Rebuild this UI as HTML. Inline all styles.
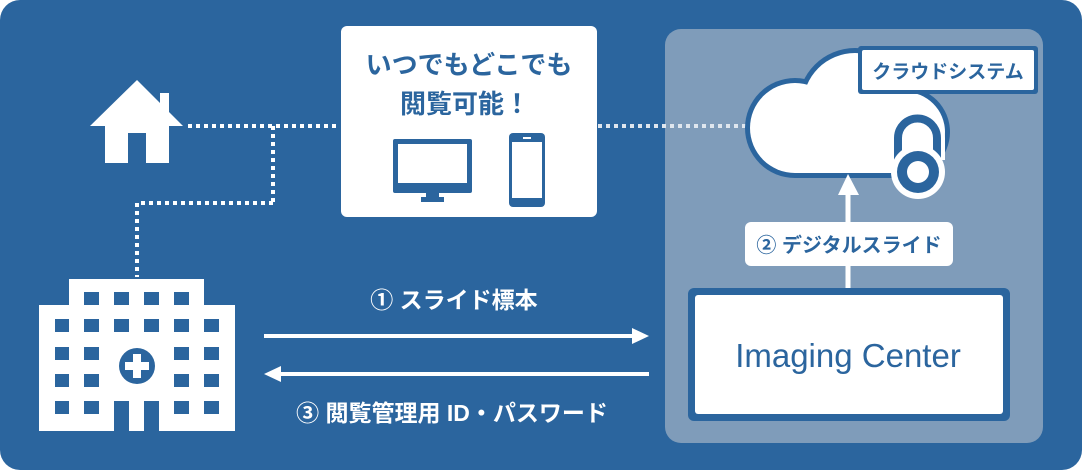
<!DOCTYPE html>
<html><head><meta charset="utf-8"><style>
html,body{margin:0;padding:0;background:#fff;}
svg{display:block;}
text{font-family:"Liberation Sans","Noto Sans CJK JP",sans-serif;font-weight:bold;}
</style></head><body>
<svg width="1082" height="470" viewBox="0 0 1082 470" xmlns="http://www.w3.org/2000/svg">
<rect x="0" y="0" width="1082" height="470" rx="20" fill="#2b659e"/>
<rect x="665" y="29" width="378" height="414" rx="16" fill="#7f9cba"/>

<!-- house -->
<polygon points="137,80 90,126 183,126" fill="#fff"/>
<rect x="105" y="120" width="64" height="43" fill="#fff"/>
<rect x="128" y="133" width="18" height="30" fill="#2b659e"/>
<rect x="160" y="93" width="9" height="25" fill="#fff"/>

<!-- dotted lines -->
<g stroke="#fff" stroke-width="4" stroke-dasharray="4 4" fill="none">
<line x1="188" y1="126" x2="340" y2="126"/>
<line x1="273" y1="126" x2="273" y2="203"/>
<line x1="273" y1="203" x2="137" y2="203"/>
<line x1="137" y1="203" x2="137" y2="277"/>
</g>
<line x1="598" y1="126" x2="746" y2="126" stroke="#dfe6ee" stroke-width="4" stroke-dasharray="4 4"/>

<!-- hospital -->
<rect x="69" y="279" width="135" height="27" fill="#fff"/>
<rect x="39" y="305" width="196" height="126" fill="#fff"/>
<g fill="#2b659e">
<rect x="84" y="292" width="15" height="13"/><rect x="114" y="292" width="15" height="13"/><rect x="144" y="292" width="15" height="13"/><rect x="174" y="292" width="15" height="13"/>
<rect x="55" y="319" width="14" height="13"/><rect x="84" y="319" width="15" height="13"/><rect x="114" y="319" width="15" height="13"/><rect x="144" y="319" width="15" height="13"/><rect x="174" y="319" width="15" height="13"/><rect x="204" y="319" width="15" height="13"/>
<rect x="55" y="347" width="14" height="13"/><rect x="84" y="347" width="15" height="13"/><rect x="174" y="347" width="15" height="13"/><rect x="204" y="347" width="15" height="13"/>
<rect x="55" y="374" width="14" height="13"/><rect x="84" y="374" width="15" height="13"/><rect x="174" y="374" width="15" height="13"/><rect x="204" y="374" width="15" height="13"/>
<rect x="55" y="401" width="14" height="13"/><rect x="84" y="401" width="15" height="13"/><rect x="174" y="401" width="15" height="13"/><rect x="204" y="401" width="15" height="13"/>
<rect x="114" y="401" width="15" height="30"/><rect x="144" y="401" width="15" height="30"/>
<circle cx="137" cy="366" r="18"/>
</g>
<rect x="125" y="362" width="24" height="8" fill="#fff"/>
<rect x="133" y="354" width="8" height="24" fill="#fff"/>

<!-- white info box -->
<rect x="341" y="26" width="256" height="191" rx="6" fill="#fff"/>
<text x="469" y="74" font-size="26" fill="#2b659e" text-anchor="middle">いつでもどこでも</text>
<text x="465" y="113" font-size="26" fill="#2b659e" text-anchor="middle">閲覧可能！</text>
<rect x="393" y="139" width="79" height="54" rx="2" fill="#2b659e"/>
<rect x="398" y="144" width="69" height="39" fill="#fff"/>
<rect x="426" y="192" width="13" height="6" fill="#2b659e"/>
<rect x="421" y="197" width="23" height="5" fill="#2b659e"/>
<rect x="509" y="133" width="36" height="74" rx="4" fill="#2b659e"/>
<rect x="512" y="142" width="30" height="56" fill="#fff"/>
<rect x="523" y="137" width="8" height="2" fill="#fff"/>

<!-- arrows -->
<line x1="264" y1="336" x2="634" y2="336" stroke="#fff" stroke-width="4"/>
<polygon points="632,328 649,336 632,344" fill="#fff"/>
<line x1="279" y1="374" x2="649" y2="374" stroke="#fff" stroke-width="4"/>
<polygon points="281,366 264,374 281,382" fill="#fff"/>
<text x="454" y="308" font-size="23" fill="#fff" text-anchor="middle">① スライド標本</text>
<text x="452" y="421" font-size="23" fill="#fff" text-anchor="middle">③ 閲覧管理用 ID・パスワード</text>

<!-- cloud -->
<g fill="#2b659e">
<circle cx="795" cy="128" r="50"/><circle cx="855" cy="105" r="57"/><circle cx="905" cy="132" r="45"/>
<rect x="795" y="120" width="110" height="58"/>
</g>
<g fill="#fff">
<circle cx="795" cy="128" r="45"/><circle cx="855" cy="105" r="52"/><circle cx="905" cy="132" r="40"/>
<rect x="795" y="120" width="110" height="53"/>
</g>
<!-- lock -->
<path d="M898,160 V138 a19.5,19.5 0 0 1 39,0 V160" fill="none" stroke="#fff" stroke-width="16"/>
<path d="M898,160 V138 a19.5,19.5 0 0 1 39,0 V160" fill="none" stroke="#2b659e" stroke-width="8"/>
<circle cx="918" cy="172" r="27" fill="#fff"/>
<circle cx="918" cy="172" r="21" fill="#2b659e"/>
<circle cx="918" cy="172" r="11" fill="#fff"/>
<!-- cloud label -->
<rect x="858" y="46" width="180" height="48" rx="3" fill="#2b659e"/>
<rect x="862" y="50" width="172" height="40" rx="2" fill="#fff"/>
<text x="948" y="78" font-size="19" fill="#2b659e" text-anchor="middle">クラウドシステム</text>

<!-- up arrow -->
<line x1="848" y1="290" x2="848" y2="192" stroke="#fff" stroke-width="5"/>
<polygon points="838,195 848,174 859,195" fill="#fff"/>
<rect x="745" y="222" width="208" height="44" rx="6" fill="#fff"/>
<text x="849" y="252" font-size="20" fill="#2b659e" text-anchor="middle">② デジタルスライド</text>

<!-- imaging center -->
<rect x="688" y="288" width="322" height="133" rx="6" fill="#2b659e"/>
<rect x="695" y="295" width="308" height="119" rx="3" fill="#fff"/>
<text x="848" y="367" font-size="33" fill="#2b659e" text-anchor="middle" style="font-weight:normal">Imaging Center</text>
</svg>
</body></html>
